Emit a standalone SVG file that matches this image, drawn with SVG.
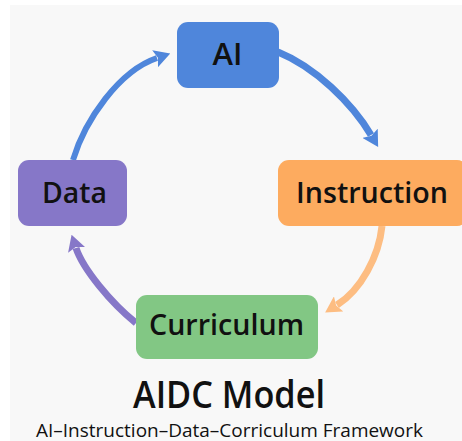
<svg xmlns="http://www.w3.org/2000/svg" width="462" height="441" viewBox="0 0 462 441">
  <style>
    .label { font-family: "Open Sans", "Liberation Sans", sans-serif; font-weight: 600; fill: #111111; text-anchor: middle; }
    .sub { font-weight: 400; }
    .conn { fill: none; stroke-linecap: butt; }
  </style>
  <defs>
    <marker id="head-blue" viewBox="0 0 16 18" markerUnits="userSpaceOnUse" markerWidth="16" markerHeight="18" refX="2" refY="9" orient="auto">
      <path d="M0,0 L16,9 L0,18 L3,9 z" fill="#4f86db"/>
    </marker>
    <marker id="head-orange" viewBox="0 0 16 18" markerUnits="userSpaceOnUse" markerWidth="16" markerHeight="18" refX="2" refY="9" orient="auto">
      <path d="M0,0 L16,9 L0,18 L3,9 z" fill="#fdbd82"/>
    </marker>
    <marker id="head-purple" viewBox="0 0 16 18" markerUnits="userSpaceOnUse" markerWidth="16" markerHeight="18" refX="2" refY="9" orient="auto">
      <path d="M0,0 L16,9 L0,18 L3,9 z" fill="#8677c8"/>
    </marker>
  </defs>

  <!-- canvas -->
  <rect x="0" y="0" width="462" height="441" fill="#ffffff"/>
  <rect x="10" y="5" width="452" height="436" fill="#f8f8f8"/>

  <!-- cycle connectors -->
  <g id="connectors">
    <path class="conn" d="M73,160 C85,120 119,71 157,58" stroke="#4f86db" stroke-width="6" marker-end="url(#head-blue)"/>
    <path class="conn" d="M278,52 C315,67 352,103 371,135" stroke="#4f86db" stroke-width="7" marker-end="url(#head-blue)"/>
    <path class="conn" d="M382,226 C379,256 361,290 337,305" stroke="#fdbd82" stroke-width="7" marker-end="url(#head-orange)"/>
    <path class="conn" d="M136,323 C111,303 83,269 76,248" stroke="#8677c8" stroke-width="7" marker-end="url(#head-purple)"/>
  </g>

  <!-- nodes -->
  <g id="node-ai">
    <rect x="177" y="22" width="102" height="66" rx="11" fill="#4f86db"/>
    <text class="label" x="227.5" y="65" font-size="30" textLength="30" lengthAdjust="spacingAndGlyphs">AI</text>
  </g>
  <g id="node-instruction">
    <rect x="278" y="160" width="190" height="66" rx="11" fill="#fdab5f"/>
    <text class="label" x="372" y="203" font-size="29" textLength="152" lengthAdjust="spacingAndGlyphs">Instruction</text>
  </g>
  <g id="node-curriculum">
    <rect x="136" y="295" width="182" height="64" rx="11" fill="#82c784"/>
    <text class="label" x="226.5" y="335" font-size="28" textLength="155" lengthAdjust="spacingAndGlyphs">Curriculum</text>
  </g>
  <g id="node-data">
    <rect x="18" y="160" width="109" height="66" rx="11" fill="#8677c8"/>
    <text class="label" x="74.5" y="203" font-size="29" textLength="65" lengthAdjust="spacingAndGlyphs">Data</text>
  </g>

  <!-- caption -->
  <g id="caption">
    <text class="label" x="229" y="408" font-size="38" textLength="192" lengthAdjust="spacingAndGlyphs">AIDC Model</text>
    <text class="label sub" x="229.5" y="437" font-size="18" textLength="387" lengthAdjust="spacingAndGlyphs">AI–Instruction–Data–Corriculum Framework</text>
  </g>
</svg>
